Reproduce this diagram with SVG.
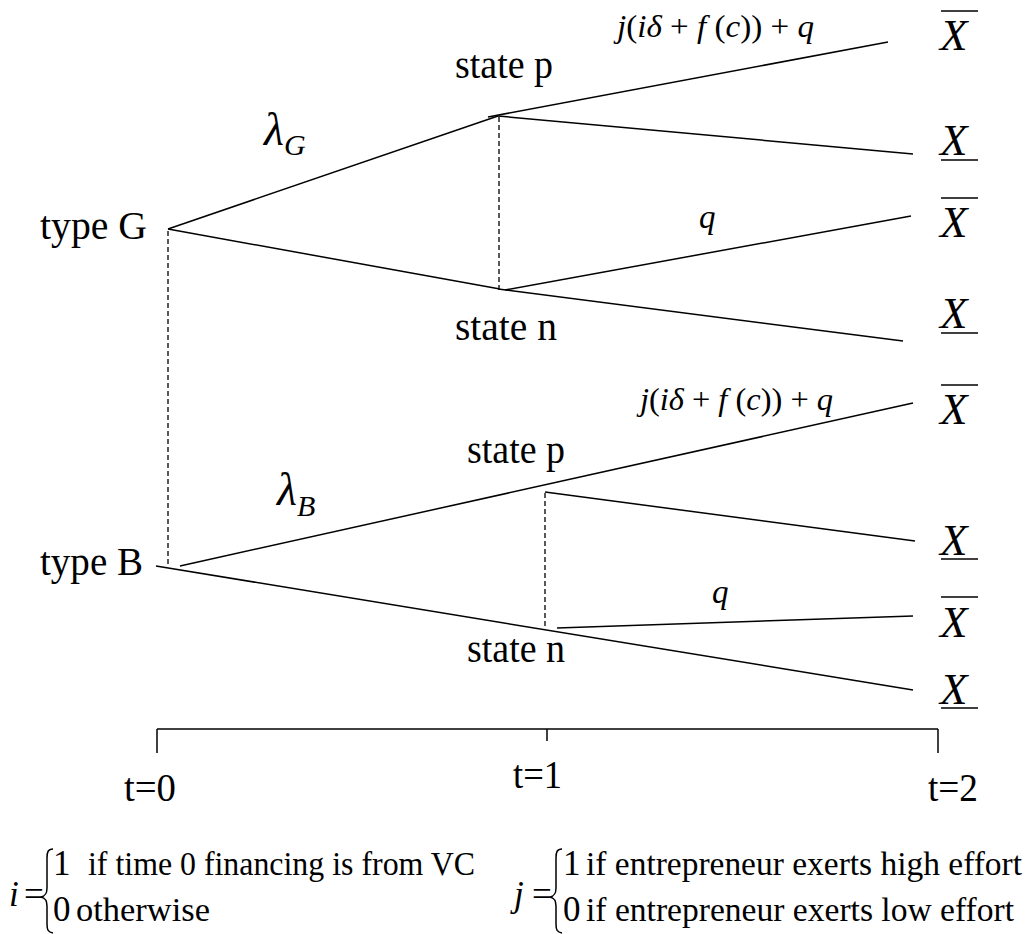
<svg xmlns="http://www.w3.org/2000/svg" width="1036" height="934" viewBox="0 0 1036 934">
<style>
text{font-family:"Liberation Serif","Times New Roman",serif;fill:#000}
.lbl{font-size:41px}
.it{font-style:italic}
.m{font-size:31px}
.q{font-size:33px;font-style:italic}
.X{font-size:45px;font-style:italic}
.eq{font-size:35px}
.eqs{font-size:33.5px}
.ln{stroke:#000;stroke-width:1.5;fill:none}
.ds{stroke:#000;stroke-width:1.3;fill:none;stroke-dasharray:5 3}
.bar{stroke:#000;stroke-width:1.3}
</style>
<rect width="1036" height="934" fill="#fff"/>
<g id="connectors">
<line class="ln" x1="168" y1="229" x2="498" y2="116"/>
<line class="ln" x1="168" y1="229" x2="500" y2="289"/>
<line class="ln" x1="488" y1="117" x2="888" y2="42"/>
<line class="ln" x1="498" y1="116" x2="913" y2="154"/>
<line class="ln" x1="505" y1="290" x2="911" y2="216"/>
<line class="ln" x1="498" y1="289" x2="903" y2="341"/>
<line class="ds" x1="499" y1="117" x2="499" y2="288"/>
<line class="ds" x1="168" y1="231" x2="168" y2="564"/>
<line class="ln" x1="180" y1="566" x2="913" y2="403"/>
<line class="ln" x1="156" y1="566" x2="913" y2="690"/>
<line class="ln" x1="545" y1="492" x2="915" y2="541"/>
<line class="ln" x1="557" y1="628" x2="913" y2="616"/>
<line class="ds" x1="545" y1="493" x2="545" y2="628"/>
<line class="ln" x1="157" y1="729" x2="938" y2="729"/>
<line class="ln" x1="157" y1="729" x2="157" y2="753"/>
<line class="ln" x1="547" y1="729" x2="547" y2="741"/>
<line class="ln" x1="938" y1="729" x2="938" y2="753"/>
</g>
<g id="typeG"><text class="lbl" x="40" y="239" textLength="107" lengthAdjust="spacingAndGlyphs">type G</text></g>
<g id="typeB"><text class="lbl" x="40" y="575" textLength="103" lengthAdjust="spacingAndGlyphs">type B</text></g>
<g id="stateP1"><text class="lbl" x="455" y="78" textLength="98" lengthAdjust="spacingAndGlyphs">state p</text></g>
<g id="stateN1"><text class="lbl" x="455" y="340" textLength="102" lengthAdjust="spacingAndGlyphs">state n</text></g>
<g id="stateP2"><text class="lbl" x="467" y="463" textLength="98" lengthAdjust="spacingAndGlyphs">state p</text></g>
<g id="stateN2"><text class="lbl" x="467" y="662" textLength="98" lengthAdjust="spacingAndGlyphs">state n</text></g>
<g id="lambdaG"><text class="it" x="264" y="145" font-size="46">λ<tspan font-size="30" dy="10">G</tspan></text></g>
<g id="lambdaB"><text class="it" x="277" y="505" font-size="46">λ<tspan font-size="30" dy="11">B</tspan></text></g>
<g id="payoff1"><text class="m" x="617" y="37" textLength="197" lengthAdjust="spacingAndGlyphs"><tspan class="it">j</tspan>(<tspan class="it">iδ</tspan> + <tspan class="it">f</tspan> (<tspan class="it">c</tspan>)) + <tspan class="it">q</tspan></text></g>
<g id="payoff2"><text class="m" x="640" y="410" textLength="193" lengthAdjust="spacingAndGlyphs"><tspan class="it">j</tspan>(<tspan class="it">iδ</tspan> + <tspan class="it">f</tspan> (<tspan class="it">c</tspan>)) + <tspan class="it">q</tspan></text></g>
<g id="q1"><text class="q" x="699" y="228">q</text></g>
<g id="q2"><text class="q" x="712" y="603">q</text></g>
<g id="Xbar1"><line class="bar" x1="941" y1="11" x2="978" y2="11"/><text class="X" x="940" y="50">X</text></g>
<g id="Xund1"><line class="bar" x1="941" y1="160" x2="978" y2="160"/><text class="X" x="940" y="155">X</text></g>
<g id="Xbar2"><line class="bar" x1="941" y1="198" x2="978" y2="198"/><text class="X" x="940" y="237">X</text></g>
<g id="Xund2"><line class="bar" x1="941" y1="333" x2="978" y2="333"/><text class="X" x="940" y="328">X</text></g>
<g id="Xbar3"><line class="bar" x1="941" y1="385" x2="978" y2="385"/><text class="X" x="940" y="424">X</text></g>
<g id="Xund3"><line class="bar" x1="941" y1="559" x2="978" y2="559"/><text class="X" x="940" y="555">X</text></g>
<g id="Xbar4"><line class="bar" x1="941" y1="597" x2="978" y2="597"/><text class="X" x="940" y="637">X</text></g>
<g id="Xund4"><line class="bar" x1="941" y1="708" x2="978" y2="708"/><text class="X" x="940" y="704">X</text></g>
<g id="t0"><text class="lbl" x="124" y="801" textLength="52" lengthAdjust="spacingAndGlyphs">t=0</text></g>
<g id="t1"><text class="lbl" x="513" y="788" textLength="49" lengthAdjust="spacingAndGlyphs">t=1</text></g>
<g id="t2"><text class="lbl" x="928" y="801" textLength="50" lengthAdjust="spacingAndGlyphs">t=2</text></g>
<g id="defI">
<text class="eq it" x="9" y="906">i</text>
<text class="eq" x="24" y="906" font-size="30">=</text>
<path class="ln" d="M53,849 C48,849 47,852 47,858 L47,888 C47,894 45,896 41,897 C45,898 47,900 47,906 L47,924 C47,930 48,932 53,933"/>
<text class="eq" x="53" y="875">1</text>
<text class="eqs" x="88" y="875" textLength="387" lengthAdjust="spacingAndGlyphs">if time 0 financing is from VC</text>
<text class="eq" x="53" y="921">0</text>
<text class="eqs" x="76" y="921" textLength="134" lengthAdjust="spacingAndGlyphs">otherwise</text>
</g>
<g id="defJ">
<text class="eq it" x="514" y="906">j</text>
<text class="eq" x="532" y="906" font-size="30">=</text>
<path class="ln" d="M562,849 C557,849 556,852 556,858 L556,888 C556,894 554,896 550,897 C554,898 556,900 556,906 L556,924 C556,930 557,932 562,933"/>
<text class="eq" x="563" y="875">1</text>
<text class="eqs" x="586" y="875" textLength="436" lengthAdjust="spacingAndGlyphs">if entrepreneur exerts high effort</text>
<text class="eq" x="563" y="921">0</text>
<text class="eqs" x="586" y="921" textLength="428" lengthAdjust="spacingAndGlyphs">if entrepreneur exerts low effort</text>
</g>
</svg>
